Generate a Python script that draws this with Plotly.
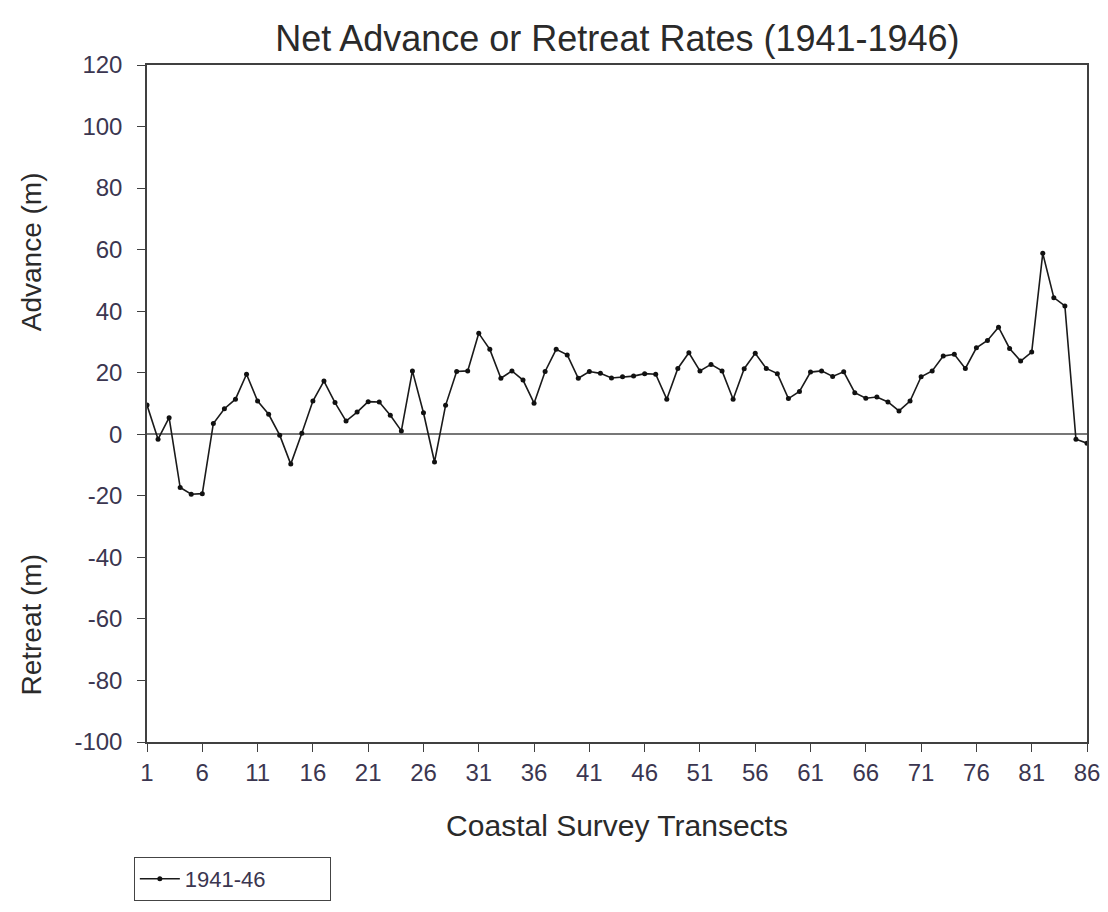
import plotly.graph_objects as go

transects = list(range(1, 87))
net_change_1941_46 = [
    9.5, -1.6, 5.4, -17.3, -19.5, -19.3, 3.5, 8.3, 11.4, 19.5,
    10.8, 6.5, -0.3, -9.7, 0.3, 10.8, 17.3, 10.3, 4.3, 7.2,
    10.6, 10.5, 6.2, 1.1, 20.6, 7.0, -9.0, 9.4, 20.4, 20.6,
    32.8, 27.6, 18.2, 20.6, 17.6, 10.1, 20.4, 27.6, 25.8, 18.2,
    20.4, 19.8, 18.3, 18.7, 18.9, 19.7, 19.5, 11.4, 21.4, 26.5,
    20.6, 22.7, 20.6, 11.4, 21.3, 26.3, 21.4, 19.7, 11.6, 13.9,
    20.2, 20.6, 18.8, 20.3, 13.5, 11.7, 12.1, 10.5, 7.6, 10.8,
    18.7, 20.6, 25.4, 26.0, 21.4, 28.1, 30.5, 34.8, 27.9, 23.8,
    26.7, 58.8, 44.4, 41.7, -1.6, -2.9,
]
x_ticks = list(range(1, 87, 5))
y_ticks = list(range(-100, 121, 20))
y_tick_labels = [str(v) for v in y_ticks]
series_name = "1941-46"

tick_color = "#3b3650"
text_color = "#2a2a2a"
axis_color = "#404040"
font = "Liberation Sans, Arial"

fig = go.Figure()
fig.add_trace(go.Scatter(
    x=transects, y=net_change_1941_46, mode="lines+markers", name=series_name,
    line=dict(color="#1a1a1a", width=1.6),
    marker=dict(color="#111111", size=5, symbol="circle"),
))

fig.update_layout(
    width=1100, height=904,
    paper_bgcolor="white", plot_bgcolor="white",
    margin=dict(l=139, r=21, t=57, b=169),
    title=dict(text="Net Advance or Retreat Rates (1941-1946)",
               x=0.554, xanchor="center", y=0.966, yanchor="middle",
               font=dict(family=font, size=36, color=text_color)),
    showlegend=True,
    legend=dict(x=-0.014, xanchor="left", y=-0.168, yanchor="top",
                orientation="h",
                bordercolor="#444444", borderwidth=1, bgcolor="white",
                font=dict(family=font, size=22, color=tick_color),
                itemwidth=40, entrywidth=140),
    xaxis=dict(range=[1, 86], tickmode="array", tickvals=x_ticks,
               automargin=False,
               ticks="outside", ticklen=8, tickcolor=axis_color,
               showline=True, linecolor=axis_color, linewidth=1.5, mirror=True,
               showgrid=False, zeroline=False,
               tickfont=dict(family=font, size=24, color=tick_color),
               title=dict(text="Coastal Survey Transects", standoff=30,
                          font=dict(family=font, size=30, color=text_color))),
    yaxis=dict(range=[-100, 120], tickmode="array", tickvals=y_ticks,
               ticktext=y_tick_labels, automargin=False,
               ticks="outside", ticklen=8, tickcolor=axis_color,
               ticklabelstandoff=10,
               showline=True, linecolor=axis_color, linewidth=1.5, mirror=True,
               showgrid=False, zeroline=True, zerolinecolor="#777777", zerolinewidth=2,
               tickfont=dict(family=font, size=24, color=tick_color)),
)

fig.add_annotation(text="Advance (m)", xref="paper", yref="paper",
                   x=-0.123, y=0.724, xanchor="center", yanchor="middle",
                   textangle=-90, showarrow=False,
                   font=dict(family=font, size=28, color=text_color))
fig.add_annotation(text="Retreat (m)", xref="paper", yref="paper",
                   x=-0.123, y=0.174, xanchor="center", yanchor="middle",
                   textangle=-90, showarrow=False,
                   font=dict(family=font, size=28, color=text_color))

fig.write_html("out.html")
